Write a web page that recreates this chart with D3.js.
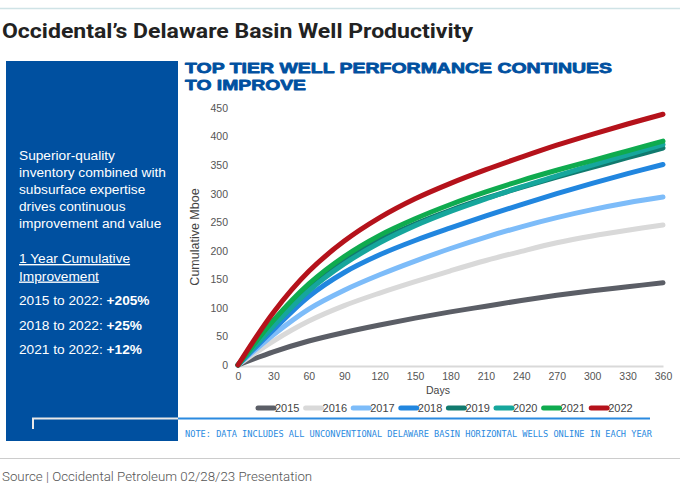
<!DOCTYPE html>
<html>
<head>
<meta charset="utf-8">
<script src="https://cdn.jsdelivr.net/npm/d3@7"></script>
<style>
  html, body { margin: 0; padding: 0; background: #fff; }
  svg { display: block; }
</style>
</head>
<body>
<svg id="chart" width="680" height="484"></svg>
<script>
// ---- DATA ----
const days = [0, 30, 60, 90, 120, 150, 180, 210, 240, 270, 300, 330, 360];
const years = ["2015", "2016", "2017", "2018", "2019", "2020", "2021", "2022"];
const v2015 = [0, 23, 42, 57, 70, 82, 93, 103, 113, 122, 130, 137, 144];
const v2016 = [0, 42, 77, 104, 126, 146, 165, 183, 199, 214, 226, 236, 245];
const v2017 = [0, 53, 98, 131, 158, 182, 204, 224, 242, 258, 272, 284, 294];
const v2018 = [0, 62, 120, 162, 193, 218, 240, 261, 281, 300, 318, 335, 351];
const v2019 = [0, 73, 136, 183, 219, 247, 271, 292, 311, 329, 346, 363, 380];
const v2020 = [0, 68, 130, 177, 214, 244, 269, 291, 312, 331, 350, 368, 386];
const v2021 = [0, 78, 142, 190, 227, 256, 281, 303, 323, 341, 358, 375, 392];
const v2022 = [0, 92, 164, 217, 258, 291, 318, 342, 364, 385, 404, 422, 439];
const yTicks = [0, 50, 100, 150, 200, 250, 300, 350, 400, 450];
const xTicks = [0, 30, 60, 90, 120, 150, 180, 210, 240, 270, 300, 330, 360];
const colors = ["#5b5e66", "#d9d9d9", "#7dbcf9", "#2186df", "#117a6e", "#16a69c", "#0fab4f", "#b5121b"];
const panelText = ["Superior-quality", "inventory combined with", "subsurface expertise", "drives continuous", "improvement and value"];
const improvements = [["2015 to 2022: ", "+205%"], ["2018 to 2022: ", "+25%"], ["2021 to 2022: ", "+12%"]];

const seriesValues = [v2015, v2016, v2017, v2018, v2019, v2020, v2021, v2022];
const series = years.map((y, i) => ({ year: y, color: colors[i], pts: days.map((d, j) => ({ d, v: seriesValues[i][j] })) }));

// ---- DRAW ----
const svg = d3.select("#chart");

// top rule
svg.append("line").attr("x1", 0).attr("x2", 680).attr("y1", 8.5).attr("y2", 8.5)
  .attr("stroke", "#cfe3e6").attr("stroke-width", 1.5);

// title
svg.append("text").attr("x", 2).attr("y", 37.5)
  .attr("font-family", "Roboto, 'Liberation Sans', sans-serif").attr("font-weight", 700)
  .attr("font-size", 21).attr("fill", "#222")
  .attr("textLength", 471).attr("lengthAdjust", "spacingAndGlyphs")
  .text("Occidental\u2019s Delaware Basin Well Productivity");

// blue panel
svg.append("rect").attr("x", 6).attr("y", 61).attr("width", 172).attr("height", 380).attr("fill", "#0050a0");

const pt = svg.append("g").attr("font-family", "'Liberation Sans', Arial, sans-serif").attr("font-size", 13.7).attr("fill", "#fff");
panelText.forEach((t, i) => {
  pt.append("text").attr("x", 19).attr("y", 160 + i * 17).text(t);
});
["1 Year Cumulative", "Improvement"].forEach((t, i) => {
  pt.append("text").attr("x", 19).attr("y", 263 + i * 17.5).attr("text-decoration", "underline").text(t);
});
improvements.forEach((p, i) => {
  const tx = pt.append("text").attr("x", 19).attr("y", 305 + i * 24.5);
  tx.append("tspan").text(p[0]);
  tx.append("tspan").attr("font-weight", "bold").text(p[1]);
});

// white bracket
svg.append("path").attr("d", "M33,429 V418.5 H178").attr("fill", "none")
  .attr("stroke", "#e8e8e8").attr("stroke-width", 2);

// subtitle
const sub = svg.append("g").attr("font-family", "'Liberation Sans', Arial, sans-serif")
  .attr("font-weight", "bold").attr("font-size", 15.5).attr("fill", "#0050a0")
  .attr("stroke", "#0050a0").attr("stroke-width", 0.8).attr("stroke-linejoin", "round");
sub.append("text").attr("x", 185).attr("y", 72.5).attr("textLength", 427).attr("lengthAdjust", "spacingAndGlyphs")
  .text("TOP TIER WELL PERFORMANCE CONTINUES");
sub.append("text").attr("x", 185).attr("y", 90).attr("textLength", 121).attr("lengthAdjust", "spacingAndGlyphs")
  .text("TO IMPROVE");

// scales
const x = d3.scaleLinear().domain([0, 360]).range([238, 663]);
const y = d3.scaleLinear().domain([0, 450]).range([365, 108]);

// axes
const yAxis = svg.append("g").attr("transform", "translate(238,0)")
  .call(d3.axisLeft(y).tickValues(yTicks).tickSize(0).tickPadding(10));
yAxis.select(".domain").remove();
yAxis.selectAll("text").attr("font-family", "'Liberation Sans', Arial, sans-serif").attr("font-size", 10.5).attr("fill", "#555");

const xAxis = svg.append("g").attr("transform", "translate(0,366)")
  .call(d3.axisBottom(x).tickValues(xTicks).tickSize(0).tickPadding(7));
xAxis.select(".domain").attr("stroke", "#d9d9d9").attr("stroke-width", 2);
xAxis.selectAll("text").attr("font-family", "'Liberation Sans', Arial, sans-serif").attr("font-size", 10.5).attr("fill", "#555");

svg.append("text").attr("transform", "translate(199,237) rotate(-90)").attr("text-anchor", "middle")
  .attr("font-family", "'Liberation Sans', Arial, sans-serif").attr("font-size", 12.5).attr("fill", "#444")
  .text("Cumulative Mboe");
svg.append("text").attr("x", 438).attr("y", 394).attr("text-anchor", "middle")
  .attr("font-family", "'Liberation Sans', Arial, sans-serif").attr("font-size", 10.5).attr("fill", "#444")
  .text("Days");

// lines
const line = d3.line().x(p => x(p.d)).y(p => y(p.v)).curve(d3.curveCatmullRom.alpha(0.5));
svg.append("g").selectAll("path").data(series).join("path")
  .attr("d", s => line(s.pts)).attr("fill", "none").attr("stroke", s => s.color)
  .attr("stroke-width", 5).attr("stroke-linecap", "round").attr("stroke-linejoin", "round");

// legend
const lg = svg.append("g").attr("font-family", "'Liberation Sans', Arial, sans-serif").attr("font-size", 11).attr("fill", "#444");
series.forEach((s, i) => {
  const lx = 258 + i * 47.6;
  lg.append("line").attr("x1", lx).attr("x2", lx + 16).attr("y1", 408).attr("y2", 408)
    .attr("stroke", s.color).attr("stroke-width", 5).attr("stroke-linecap", "round");
  lg.append("text").attr("x", lx + 17).attr("y", 412).text(s.year);
});

// blue rule and note
svg.append("line").attr("x1", 178).attr("x2", 650).attr("y1", 418.5).attr("y2", 418.5)
  .attr("stroke", "#2a8ae0").attr("stroke-width", 2);
svg.append("text").attr("x", 185).attr("y", 437)
  .attr("font-family", "'DejaVu Sans Mono', 'Liberation Mono', monospace").attr("font-size", 8.6)
  .attr("fill", "#2a8ae0").attr("textLength", 467).attr("lengthAdjust", "spacingAndGlyphs")
  .text("NOTE: DATA INCLUDES ALL UNCONVENTIONAL DELAWARE BASIN HORIZONTAL WELLS ONLINE IN EACH YEAR");

// bottom rule and source
svg.append("line").attr("x1", 0).attr("x2", 680).attr("y1", 458.5).attr("y2", 458.5)
  .attr("stroke", "#cccccc").attr("stroke-width", 1);
svg.append("text").attr("x", 2).attr("y", 481)
  .attr("font-family", "Roboto, 'Liberation Sans', sans-serif").attr("font-weight", 300)
  .attr("font-size", 13.3).attr("fill", "#555")
  .text("Source | Occidental Petroleum 02/28/23 Presentation");
</script>
</body>
</html>
